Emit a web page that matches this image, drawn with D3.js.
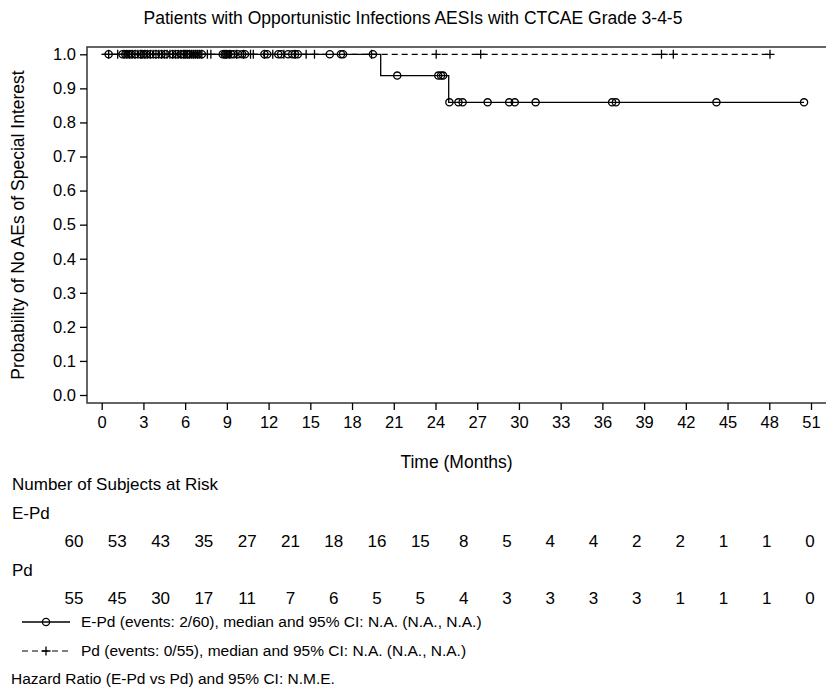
<!DOCTYPE html>
<html>
<head>
<meta charset="utf-8">
<script src="https://cdn.jsdelivr.net/npm/d3@7"></script>
<style>
  html, body { margin: 0; padding: 0; background: #fff; }
  svg { display: block; }
  text { font-family: "Liberation Sans", Arial, sans-serif; fill: #000; }
</style>
</head>
<body>
<svg id="chart" width="826" height="690"></svg>
<script>
// ---- data ----
const xTicks = [0, 3, 6, 9, 12, 15, 18, 21, 24, 27, 30, 33, 36, 39, 42, 45, 48, 51];
const yTicks = [0, 0.1, 0.2, 0.3, 0.4, 0.5, 0.6, 0.7, 0.8, 0.9, 1.0];

// Kaplan-Meier step levels (time in months, survival probability)
const epdSteps = [[0, 1], [20.06, 0.9375], [24.95, 0.859]];
const pdSteps = [[0, 1]];
const epdEnd = 50.5;
const pdEnd = 48.05;

// censored observations (months)
const epdCensor = [
  0.5, 1.5, 1.7, 1.9, 2.1, 2.4, 2.8,
  3.0, 3.2, 3.5, 3.9, 4.3, 4.6, 5.1, 5.4, 5.7, 5.9,
  6.1, 6.3, 6.6, 6.9, 7.2, 8.7, 8.85, 8.95,
  9.1, 9.3, 9.5, 9.8, 10.1, 10.3, 11.7, 11.9,
  12.7, 12.9, 13.4, 13.7, 13.9, 14.1,
  16.4, 17.2, 17.35,
  19.5, 21.25,
  24.2, 24.4, 24.55, 25.0, 25.65, 25.95,
  27.75, 29.3, 29.7, 31.2, 36.7, 36.97, 44.2, 50.5
];
const pdCensor = [
  0.5, 1.15, 1.6, 1.8, 2.0, 2.2, 2.4, 2.6, 2.8, 2.9,
  3.1, 3.3, 3.5, 3.7, 3.9, 4.1, 4.3, 4.5, 4.7, 4.9, 5.1, 5.3, 5.5, 5.7, 5.9,
  6.0, 6.15, 6.3, 6.45, 6.6, 6.75, 6.9, 7.05, 7.2, 7.6, 7.85, 8.8, 8.95,
  9.2, 9.7, 10.2, 10.7, 10.9, 11.7,
  12.3, 13.1, 13.9, 14.7,
  15.3, 19.4,
  24.05, 27.25, 40.25, 41.1, 48.05
];

const epdAtRisk = [60, 53, 43, 35, 27, 21, 18, 16, 15, 8, 5, 4, 4, 2, 2, 1, 1, 0];
const pdAtRisk = [55, 45, 30, 17, 11, 7, 6, 5, 5, 4, 3, 3, 3, 3, 1, 1, 1, 0];

const titleText = "Patients with Opportunistic Infections AESIs with CTCAE Grade 3-4-5";
const yLabel = "Probability of No AEs of Special Interest";
const xLabel = "Time (Months)";
const legendEpd = "E-Pd (events: 2/60), median and 95% CI: N.A. (N.A., N.A.)";
const legendPd = "Pd (events: 0/55), median and 95% CI: N.A. (N.A., N.A.)";
const hazardText = "Hazard Ratio (E-Pd vs Pd) and 95% CI: N.M.E.";

// ---- layout ----
const svg = d3.select("#chart");
const frame = { left: 87, top: 47, right: 828, bottom: 403 };
const x = d3.scaleLinear().domain([0, 51]).range([101.7, 811]);
const y = d3.scaleLinear().domain([0, 1]).range([395, 54.3]);
const fsTick = 16.5;
const fsLabel = 17.5;
const fsTable = 17;
const fsLegend = 15.5;
const ink = "#000";

// title
svg.append("text")
  .attr("x", 413).attr("y", 24)
  .attr("text-anchor", "middle")
  .style("font-size", "17.5px")
  .text(titleText);

// plot frame
svg.append("rect")
  .attr("x", frame.left).attr("y", frame.top)
  .attr("width", frame.right - frame.left).attr("height", frame.bottom - frame.top)
  .attr("fill", "none").attr("stroke", "#333").attr("stroke-width", 1.5);

// axes
const xAxis = d3.axisBottom(x).tickValues(xTicks).tickSize(7).tickPadding(6).tickFormat(d3.format("d"));
const gx = svg.append("g").attr("transform", `translate(0,${frame.bottom})`).call(xAxis);
gx.select(".domain").remove();
gx.selectAll("line").attr("stroke", ink).attr("stroke-width", 1.3);
gx.selectAll("text").style("font-size", fsTick + "px").style("font-family", null);

const yAxis = d3.axisLeft(y).tickValues(yTicks).tickSize(7).tickPadding(4).tickFormat(d3.format(".1f"));
const gy = svg.append("g").attr("transform", `translate(${frame.left},0)`).call(yAxis);
gy.select(".domain").remove();
gy.selectAll("line").attr("stroke", ink).attr("stroke-width", 1.3);
gy.selectAll("text").style("font-size", fsTick + "px").style("font-family", null);

svg.append("text")
  .attr("x", (frame.left + 826) / 2).attr("y", 468)
  .attr("text-anchor", "middle").style("font-size", fsLabel + "px")
  .text(xLabel);

svg.append("text")
  .attr("transform", `translate(24,${(frame.top + frame.bottom) / 2}) rotate(-90)`)
  .attr("text-anchor", "middle").style("font-size", fsLabel + "px")
  .text(yLabel);

// ---- curves ----
function stepPoints(steps, end) {
  const pts = [];
  steps.forEach((s, i) => {
    if (i > 0) pts.push([s[0], steps[i - 1][1]]);
    pts.push([s[0], s[1]]);
  });
  pts.push([end, steps[steps.length - 1][1]]);
  return pts;
}
function levelAt(steps, t) {
  let v = steps[0][1];
  steps.forEach(s => { if (t >= s[0]) v = s[1]; });
  return v;
}
const line = d3.line().x(d => x(d[0])).y(d => y(d[1]));

const plot = svg.append("g");

plot.append("path")
  .attr("d", line(stepPoints(pdSteps, pdEnd)))
  .attr("fill", "none").attr("stroke", ink).attr("stroke-width", 1.2)
  .attr("stroke-dasharray", "6,4");

plot.append("path")
  .attr("d", line(stepPoints(epdSteps, epdEnd)))
  .attr("fill", "none").attr("stroke", ink).attr("stroke-width", 1.3);

// censor marks
plot.selectAll("circle.epd").data(epdCensor).join("circle")
  .attr("class", "epd")
  .attr("cx", d => x(d)).attr("cy", d => y(levelAt(epdSteps, d)))
  .attr("r", 3.6).attr("fill", "none").attr("stroke", ink).attr("stroke-width", 1.3);

plot.selectAll("path.pd").data(pdCensor).join("path")
  .attr("class", "pd")
  .attr("d", d => {
    const cx = x(d), cy = y(levelAt(pdSteps, d));
    return `M${cx - 4.5},${cy}H${cx + 4.5}M${cx},${cy - 4.5}V${cy + 4.5}`;
  })
  .attr("stroke", ink).attr("stroke-width", 1.3);

// ---- risk table ----
const xRisk = d3.scaleLinear().domain([0, 51]).range([74, 810]);
svg.append("text").attr("x", 12).attr("y", 490).style("font-size", fsTable + "px").text("Number of Subjects at Risk");
svg.append("text").attr("x", 12).attr("y", 519).style("font-size", fsTable + "px").text("E-Pd");
svg.append("text").attr("x", 12).attr("y", 576).style("font-size", fsTable + "px").text("Pd");

svg.append("g").selectAll("text").data(epdAtRisk).join("text")
  .attr("x", (d, i) => xRisk(xTicks[i])).attr("y", 547)
  .attr("text-anchor", "middle").style("font-size", fsTable + "px")
  .text(d => d);
svg.append("g").selectAll("text").data(pdAtRisk).join("text")
  .attr("x", (d, i) => xRisk(xTicks[i])).attr("y", 604)
  .attr("text-anchor", "middle").style("font-size", fsTable + "px")
  .text(d => d);

// ---- legend ----
const lg = svg.append("g");
lg.append("line").attr("x1", 22).attr("x2", 70).attr("y1", 622).attr("y2", 622)
  .attr("stroke", ink).attr("stroke-width", 1.3);
lg.append("circle").attr("cx", 46).attr("cy", 622).attr("r", 3.6)
  .attr("fill", "none").attr("stroke", ink).attr("stroke-width", 1.3);
lg.append("text").attr("x", 81).attr("y", 627).style("font-size", fsLegend + "px").text(legendEpd);

lg.append("line").attr("x1", 22).attr("x2", 70).attr("y1", 651).attr("y2", 651)
  .attr("stroke", ink).attr("stroke-width", 1.2).attr("stroke-dasharray", "6,4");
lg.append("path").attr("d", "M41.5,651H50.5M46,646.5V655.5")
  .attr("stroke", ink).attr("stroke-width", 1.3);
lg.append("text").attr("x", 81).attr("y", 656).style("font-size", fsLegend + "px").text(legendPd);

svg.append("text").attr("x", 11).attr("y", 684).style("font-size", fsLegend + "px").text(hazardText);
</script>
</body>
</html>
